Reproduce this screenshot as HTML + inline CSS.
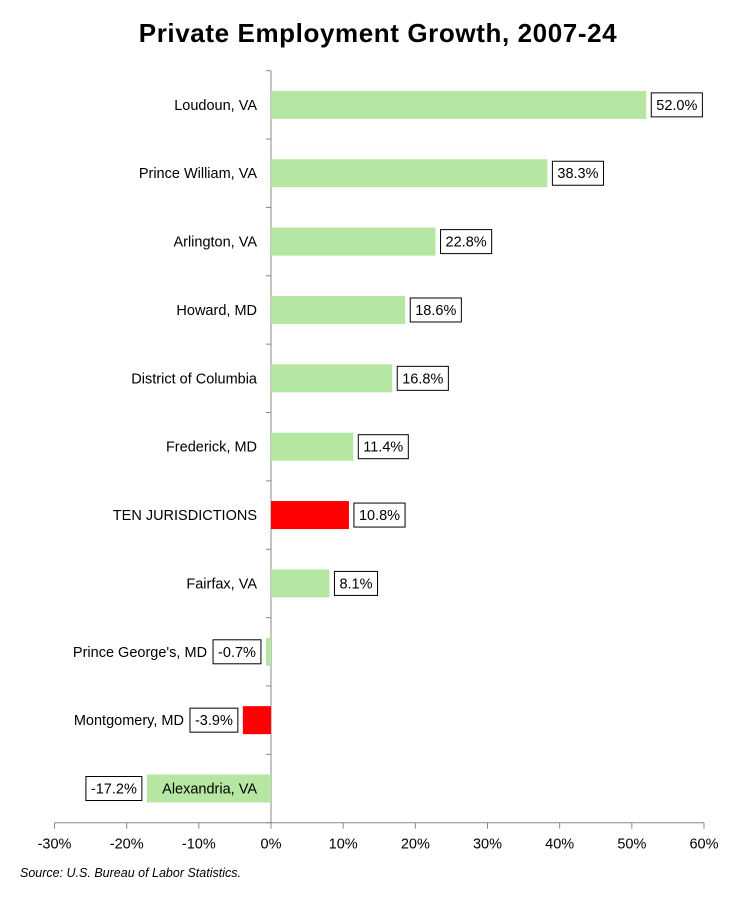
<!DOCTYPE html>
<html><head><meta charset="utf-8">
<style>body{margin:0;background:#fff}svg{display:block;font-family:"Liberation Sans",sans-serif}</style>
</head><body>
<svg id="c" width="735" height="897">
<text x="378" y="42" text-anchor="middle" font-size="26" font-weight="bold" letter-spacing="0.6" fill="#000">Private Employment Growth, 2007-24</text>
<text x="20" y="877" font-size="12.5" font-style="italic" fill="#000">Source: U.S. Bureau of Labor Statistics.</text>
</svg>
<script>
const categories=["Loudoun, VA","Prince William, VA","Arlington, VA","Howard, MD","District of Columbia","Frederick, MD","TEN JURISDICTIONS","Fairfax, VA","Prince George's, MD","Montgomery, MD","Alexandria, VA"];
const values=[52.0,38.3,22.8,18.6,16.8,11.4,10.8,8.1,-0.7,-3.9,-17.2];
const highlight=[false,false,false,false,false,false,true,false,false,true,false];
const tickValues=[-30,-20,-10,0,10,20,30,40,50,60];
const tickLabels=["-30%","-20%","-10%","0%","10%","20%","30%","40%","50%","60%"];
const svg=document.getElementById('c');const NS="http://www.w3.org/2000/svg";
const top0=70.7,bottom=822.7,band=(bottom-top0)/categories.length;
const x=v=>271+(v)*(704-271)/60;
const y=i=>top0+i*band;
function mk(t,a){const e=document.createElementNS(NS,t);for(const k in a)e.setAttribute(k,a[k]);svg.appendChild(e);return e;}
let ax=mk('line',{x1:x(0),x2:x(0),y1:top0,y2:bottom,stroke:'#888','stroke-width':1});


let bx=mk('line',{x1:x(-30),x2:x(60),y1:bottom,y2:bottom,stroke:'#888','stroke-width':1});


for(let i=0;i<=categories.length;i++){const t=mk('line',{x1:x(0)-5,x2:x(0),y1:y(i),y2:y(i),stroke:'#888'});

}
tickValues.forEach((v,i)=>{const t=mk('line',{x1:x(v),x2:x(v),y1:bottom,y2:bottom+6,stroke:'#888'});


const l=mk('text',{x:x(v),y:bottom+26,'text-anchor':'middle','font-size':14.5,fill:'#000'});l.textContent=tickLabels[i];

});
categories.forEach((c,i)=>{const v=values[i];const cy=y(i)+band/2;
const b=mk('rect',{x:Math.min(x(0),x(v)),y:cy-14,width:Math.abs(x(v)-x(0)),height:28,fill:highlight[i]?'#ff0000':'#b5e6a2'});


const lbl=mk('text',{y:cy+5,'font-size':14.5,fill:'#000'});lbl.textContent=v.toFixed(1)+'%';


const w=lbl.getComputedTextLength();const bw=w+10;
const bxl=v>=0?x(v)+5:x(v)-5-bw;
lbl.setAttribute('x',bxl+5);
const box=mk('rect',{x:bxl,y:cy-12,width:bw,height:24,fill:'none',stroke:'#000','stroke-width':1});


const cl=mk('text',{y:cy+5,'font-size':14.5,fill:'#000','text-anchor':'end'});cl.textContent=c;


const cw=cl.getComputedTextLength();let r=257;
if(v<0&&bxl+bw>r-cw)r=bxl-6;
cl.setAttribute('x',r);});
</script>
</body></html>
